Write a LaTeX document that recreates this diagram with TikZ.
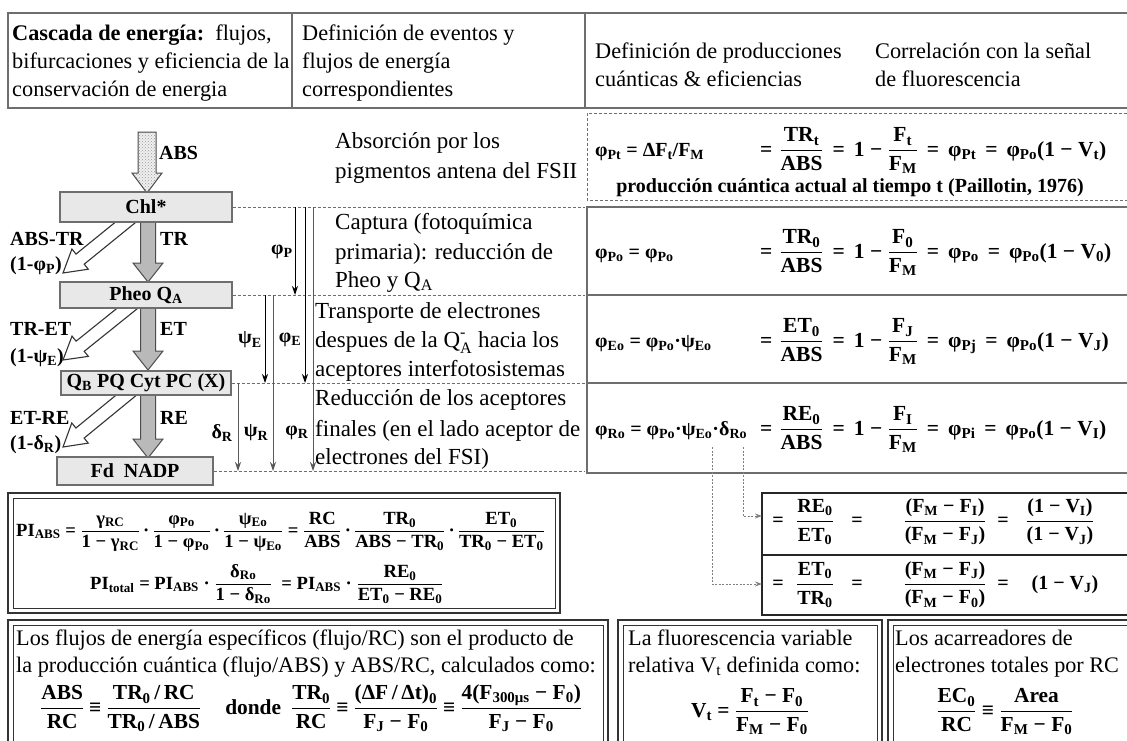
\documentclass[tikz,border=0pt]{standalone}
\usepackage{amsmath}
\usepackage{fontspec}
\setmainfont{Liberation Serif}
\usetikzlibrary{patterns,arrows.meta,calc}
\newcommand\lo[1]{\textsubscript{#1}}
\newcommand\fr[2]{$\dfrac{\text{#1}}{\text{#2}}$}
\newcommand\eq{\hspace{9pt}=\hspace{9pt}}
\newcommand\eqv{\hspace{5pt}≡\hspace{5pt}}
\newcommand\barrow[8]{%
  \pgfmathsetmacro\baang{atan2(-(#5-#3),#4-#2)}%
  \pgfmathsetmacro\balen{veclen(#4-#2,#5-#3)}%
  \begin{scope}[shift={(#2,#3)},rotate=\baang]
    \draw[#1] (0,#6) -- ({\balen-#8},#6) -- ({\balen-#8},#7) -- (\balen,0) -- ({\balen-#8},-#7) -- ({\balen-#8},-#6) -- (0,-#6) -- cycle;
  \end{scope}}
\definecolor{lineg}{RGB}{110,110,110}
\definecolor{boxg}{RGB}{232,232,232}
\begin{document}
\begin{tikzpicture}[x=1pt,y=-1pt,
  txt/.style={font=\fontsize{23}{29}\selectfont, anchor=base west, inner sep=0},
  htxt/.style={font=\fontsize{22.3}{28}\selectfont, anchor=base west, inner sep=0},
  btxt/.style={font=\fontsize{22.2}{28}\selectfont, anchor=base west, inner sep=0},
  lab/.style={font=\bfseries\fontsize{20}{24}\selectfont, inner sep=0},
  fml/.style={font=\bfseries\fontsize{20}{24}\selectfont, inner sep=0, anchor=base west},
  fmlr/.style={font=\bfseries\fontsize{21.5}{26}\selectfont, inner sep=0, anchor=base west},
  fmlp/.style={font=\bfseries\fontsize{18.6}{22}\selectfont, inner sep=0, anchor=base west},
  fmlb/.style={font=\bfseries\fontsize{21.4}{26}\selectfont, inner sep=0, anchor=base west},
  cbox/.style={draw=lineg, fill=boxg, line width=1.3, inner sep=0, font=\bfseries\fontsize{20}{24}\selectfont},
  frame/.style={draw=lineg, line width=1.8},
  dsh/.style={draw=lineg, dash pattern=on 3pt off 2pt, line width=1},
  varr/.style={-{Stealth[length=9pt,width=6pt]}, line width=1},
  garr/.style={-{Stealth[length=9pt,width=6pt]}, line width=1, draw=gray!70!black},
  darr/.style={-{Stealth[length=7pt,width=5pt]}, draw=gray, line width=0.9, dash pattern=on 2pt off 1.5pt},
  absarrow/.style={draw=gray!60!black, line width=1, preaction={fill=gray!12}, pattern=crosshatch dots, pattern color=gray!80},
  grayarrow/.style={draw=gray!60!black, line width=1, fill=gray!55},
  whitearrow/.style={draw=gray!40!black, line width=1.1, fill=white},
  outerb/.style={draw=gray!40!black, line width=2.6},
  innerb/.style={draw=gray!40!black, line width=0.9}
]
\useasboundingbox (0,0) rectangle (1127,740);
\fill[white] (0,0) rectangle (1127,740);

% ---------- header
\draw[frame] (1127,13) -- (8,13) -- (8,108) -- (1127,108);
\draw[frame] (292,13) -- (292,108);
\draw[frame] (585,13) -- (585,108);
\node[htxt] (h1) at (12,40) {\textbf{Cascada de energía:}\ \ flujos,};
\node[htxt] (h2) at (12,68) {bifurcaciones y eficiencia de la};
\node[htxt] (h3) at (12,96) {conservación de energia};
\node[htxt] (h4) at (302,40) {Definición de eventos y};
\node[htxt] (h5) at (302,68) {flujos de energía};
\node[htxt] (h6) at (302,96) {correspondientes};
\node[htxt] (h7) at (595,58) {Definición de producciones};
\node[htxt] (h8) at (595,86) {cuánticas \& eficiencias};
\node[htxt] (h9) at (875,58) {Correlación con la señal};
\node[htxt] (h10) at (875,86) {de fluorescencia};

% ---------- block arrows of the cascade
\barrow{absarrow}{147}{132}{147}{193}{9}{15}{20}
\barrow{grayarrow}{148}{222}{148}{282}{7.5}{15}{19}
\barrow{grayarrow}{148}{308}{148}{370}{7.5}{15}{19}
\barrow{grayarrow}{148}{394}{148}{458}{7.5}{15}{19}
\barrow{whitearrow}{132}{217}{63}{273}{6.5}{13}{22}
\barrow{whitearrow}{134}{303}{63}{360}{6.5}{13}{22}
\barrow{whitearrow}{135}{388}{63}{447}{6.5}{13}{22}

% ---------- cascade boxes
\node[cbox, minimum width=172, minimum height=30] (chl) at (146,207) {Chl*};
\node[cbox, minimum width=172, minimum height=26] (pheo) at (146,295) {Pheo Q\lo{A}};
\node[cbox, minimum width=170, minimum height=24] (qb) at (146,383) {Q\lo{B} PQ Cyt PC (X)};
\node[cbox, minimum width=156, minimum height=28] (fd) at (135,471) {Fd\ \ NADP};

% labels
\node[lab, anchor=base west] (labs) at (159,159) {ABS};
\node[lab, anchor=base west] (ltr) at (160,245) {TR};
\node[lab, anchor=base west] (labstr) at (10,245) {ABS-TR};
\node[lab, anchor=base west] (lphip) at (10,270) {(1-φ\lo{P})};
\node[lab, anchor=base west] (let) at (160,335) {ET};
\node[lab, anchor=base west] (ltret) at (10,335) {TR-ET};
\node[lab, anchor=base west] (lpsie) at (10,362) {(1-ψ\lo{E})};
\node[lab, anchor=base west] (lre) at (160,424) {RE};
\node[lab, anchor=base west] (letre) at (10,424) {ET-RE};
\node[lab, anchor=base west] (ldelr) at (10,449) {(1-δ\lo{R})};

% ---------- dashed level lines
\coordinate (e1) at (585,207);
\coordinate (e2) at (585,295);
\coordinate (e3) at (585,383);
\coordinate (e4) at (585,471);
\draw[dsh] (chl.east) -- (e1);
\draw[dsh] (pheo.east) -- (e2);
\draw[dsh] (qb.east) -- (e3);
\draw[dsh] (fd.east) -- (e4);

% ---------- yield arrows
\coordinate (p1) at (295,207); \coordinate (p2) at (295,295);
\coordinate (q1) at (305,207); \coordinate (q2) at (305,383);
\coordinate (r1) at (313,207); \coordinate (r2) at (313,471);
\coordinate (s1) at (265,295); \coordinate (s2) at (265,383);
\coordinate (t1) at (273,295); \coordinate (t2) at (273,471);
\coordinate (u1) at (238,383); \coordinate (u2) at (238,471);
\draw[varr] (p1) -- (p2);
\draw[varr] (q1) -- (q2);
\draw[garr] (r1) -- (r2);
\draw[varr] (s1) -- (s2);
\draw[garr] (t1) -- (t2);
\draw[garr] (u1) -- (u2);
\node[lab] (gp) at (282,252) {φ\lo{P}};
\node[lab] (gpe) at (250,340) {ψ\lo{E}};
\node[lab] (gfe) at (290,340) {φ\lo{E}};
\node[lab] (gdr) at (222,433) {δ\lo{R}};
\node[lab] (gpr) at (256,433) {ψ\lo{R}};
\node[lab] (gfr) at (297,433) {φ\lo{R}};

% ---------- middle column texts
\node[txt] (m1) at (335,148) {Absorción por los};
\node[txt] (m2) at (335,178) {pigmentos antena del FSII};
\node[txt] (m3) at (335,229) {Captura (fotoquímica};
\node[txt] (m4) at (335,259) {primaria): reducción de};
\node[txt] (m5) at (335,287) {Pheo y Q\lo{A}};
\node[txt] (m6) at (315,318) {Transporte de electrones};
\node[txt] (m7) at (315,347) {despues de la Q$_{\text{A}}^{\text{-}}$ hacia los};
\node[txt] (m8) at (315,376) {aceptores interfotosistemas};
\node[txt] (m9) at (315,405) {Reducción de los aceptores};
\node[txt] (m10) at (315,436) {finales (en el lado aceptor de};
\node[txt] (m11) at (315,464) {electrones del FSI)};

% ---------- right formula boxes
\draw[dsh] (1127,113) -- (587,113) -- (587,200) -- (1127,200);
\draw[frame] (1127,207) -- (587,207) -- (587,473) -- (1127,473);
\draw[frame] (587,295) -- (1127,295);
\draw[frame] (587,383) -- (1127,383);

\node[fml] (fpt) at (595,156) {φ\lo{Pt} = ΔF\lo{t}/F\lo{M}};
\node[fmlr] (fptr) at (760,156) {=\hspace{7pt}\fr{TR\lo{t}}{ABS}\eq1 − \fr{F\lo{t}}{F\lo{M}}\eq φ\lo{Pt}\eq φ\lo{Po}(1 − V\lo{t})};
\node[fml, anchor=base] (paill) at (850,192) {producción cuántica actual al tiempo t (Paillotin, 1976)};

\node[fml] (fpo) at (595,258) {φ\lo{Po} = φ\lo{Po}};
\node[fmlr] (fpor) at (760,258) {=\hspace{7pt}\fr{TR\lo{0}}{ABS}\eq1 − \fr{F\lo{0}}{F\lo{M}}\eq φ\lo{Po}\eq φ\lo{Po}(1 − V\lo{0})};

\node[fml] (feo) at (595,347) {φ\lo{Eo} = φ\lo{Po}·ψ\lo{Eo}};
\node[fmlr] (feor) at (760,347) {=\hspace{7pt}\fr{ET\lo{0}}{ABS}\eq1 − \fr{F\lo{J}}{F\lo{M}}\eq φ\lo{Pj}\eq φ\lo{Po}(1 − V\lo{J})};

\node[fml] (fro) at (595,435) {φ\lo{Ro} = φ\lo{Po}·ψ\lo{Eo}·δ\lo{Ro}};
\node[fmlr] (fror) at (760,435) {=\hspace{7pt}\fr{RE\lo{0}}{ABS}\eq1 − \fr{F\lo{I}}{F\lo{M}}\eq φ\lo{Pi}\eq φ\lo{Po}(1 − V\lo{I})};

% ---------- small ratio boxes
\draw[frame, draw=gray!30!black] (1127,493) -- (762,493) -- (762,615) -- (1127,615);
\draw[frame, draw=gray!30!black] (762,555) -- (1127,555);
\node[fml, anchor=center] (k1) at (778,522) {=};
\node[fml, anchor=center] (k2) at (815,522) {\fr{RE\lo{0}}{ET\lo{0}}};
\node[fml, anchor=center] (k3) at (857,522) {=};
\node[fml, anchor=center] (k4) at (945,522) {\fr{(F\lo{M} − F\lo{I})}{(F\lo{M} − F\lo{J})}};
\node[fml, anchor=center] (k5) at (1003,522) {=};
\node[fml, anchor=center] (k6) at (1060,522) {\fr{(1 − V\lo{I})}{(1 − V\lo{J})}};
\node[fml, anchor=center] (j1) at (778,585) {=};
\node[fml, anchor=center] (j2) at (815,585) {\fr{ET\lo{0}}{TR\lo{0}}};
\node[fml, anchor=center] (j3) at (857,585) {=};
\node[fml, anchor=center] (j4) at (945,585) {\fr{(F\lo{M} − F\lo{J})}{(F\lo{M} − F\lo{0})}};
\node[fml, anchor=center] (j5) at (1003,585) {=};
\node[fml, anchor=center] (j6) at (1065,585) {(1 − V\lo{J})};

\coordinate (cpsi) at (712,447);
\coordinate (cdel) at (743,447);
\draw[darr] (cdel) |- (762,516);
\draw[darr] (cpsi) |- (762,584);

% ---------- PI box
\draw[outerb] (8,493) rectangle (560,613);
\draw[innerb] (13,498) rectangle (555,608);
\node[fmlp] (pi1) at (16,536) {PI\lo{ABS} = \fr{γ\lo{RC}}{1 − γ\lo{RC}}\,·\,\fr{φ\lo{Po}}{1 − φ\lo{Po}}\,·\,\fr{ψ\lo{Eo}}{1 − ψ\lo{Eo}} = \fr{RC}{ABS}\,·\,\fr{TR\lo{0}}{ABS − TR\lo{0}}\,·\,\fr{ET\lo{0}}{TR\lo{0} − ET\lo{0}}};
\node[fmlp] (pi2) at (90,589) {PI\lo{total} = PI\lo{ABS} · \fr{δ\lo{Ro}}{1 − δ\lo{Ro}}\ \ = PI\lo{ABS} · \fr{RE\lo{0}}{ET\lo{0} − RE\lo{0}}};

% ---------- bottom boxes
\draw[outerb] (8,620) rectangle (608,760);
\draw[innerb] (13,625) rectangle (603,760);
\draw[outerb] (618,620) rectangle (882,760);
\draw[innerb] (623,625) rectangle (877,760);
\draw[outerb] (888,620) rectangle (1140,760);
\draw[innerb] (893,625) rectangle (1140,760);

\node[btxt] (b1) at (16,645) {Los flujos de energía específicos (flujo/RC) son el producto de};
\node[btxt] (b2) at (16,672) {la producción cuántica (flujo/ABS) y ABS/RC, calculados como:};
\node[fmlb] (bf1) at (40,714) {\fr{ABS}{RC}\eqv\fr{TR\lo{0}\,/\,RC}{TR\lo{0}\,/\,ABS}\hspace{24pt}donde\hspace{10pt}\fr{TR\lo{0}}{RC}\eqv\fr{(ΔF\,/\,Δt)\lo{0}}{F\lo{J} − F\lo{0}}\eqv\fr{4(F\lo{300μs} − F\lo{0})}{F\lo{J} − F\lo{0}}};

\node[btxt] (b3) at (628,645) {La fluorescencia variable};
\node[btxt] (b4) at (628,672) {relativa V\lo{t} definida como:};
\node[fmlb, anchor=base] (vt) at (750,717) {V\lo{t} = \fr{F\lo{t} − F\lo{0}}{F\lo{M} − F\lo{0}}};

\node[btxt] (b5) at (895,645) {Los acarreadores de};
\node[btxt] (b6) at (895,672) {electrones totales por RC};
\node[fmlb, anchor=base] (ec) at (1005,717) {\fr{EC\lo{0}}{RC} ≡ \fr{Area}{F\lo{M} − F\lo{0}}};
\end{tikzpicture}
\end{document}
